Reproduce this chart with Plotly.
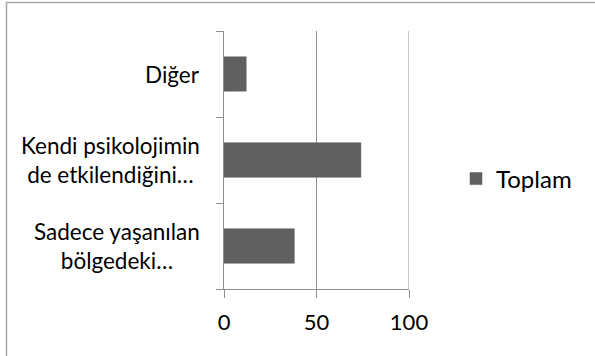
import plotly.graph_objects as go

# Survey answers (bottom to top on the category axis)
categories = ["Sadece yaşanılan<br>bölgedeki…", "Kendi psikolojimin<br>de etkilendiğini…", "Diğer"]
values = [38, 74, 12]
series_name = "Toplam"
x_ticks = [0, 50, 100]

FONT = "Lato"
W, H = 595, 356
L, R, T, B = 224, 186, 31, 67
pw, ph = W - L - R, H - T - B
GRID = "#8f8f8f"

fig = go.Figure()
fig.add_trace(go.Bar(
    y=categories, x=values, orientation="h", name=series_name,
    marker=dict(color="#606060", line=dict(color="#555555", width=0.5)),
    showlegend=True,
))

# Category labels: centered lines, right edge next to the axis
for cat in categories:
    fig.add_annotation(
        x=-22 / pw, xref="paper", y=cat, yref="y",
        text=cat, showarrow=False, align="center",
        xanchor="right", yanchor="middle",
        font=dict(family=FONT, size=22.5, color="#000000"),
    )

# Vertical grid line at the last tick (the plot edge)
fig.add_shape(
    type="line", xref="x", yref="paper",
    x0=x_ticks[-1], x1=x_ticks[-1], y0=0, y1=1,
    line=dict(color=GRID, width=1), layer="below",
)

# Outer chart frame
fig.add_shape(
    type="rect", xref="paper", yref="paper",
    x0=(6.5 - L) / pw, x1=(W + 20 - L) / pw,
    y0=-(H + 20 - T - ph) / ph, y1=(T - 2.5) / ph + 1,
    line=dict(color="#a6a6a6", width=1.5), fillcolor="rgba(0,0,0,0)",
    layer="below",
)

fig.update_layout(
    width=W, height=H,
    margin=dict(l=L, r=R, t=T, b=B),
    paper_bgcolor="white", plot_bgcolor="white",
    bargap=0.6,
    font=dict(family=FONT, size=22, color="#000000"),
    legend=dict(
        x=(456 - L) / pw, y=(T + ph - 179) / ph, xanchor="left", yanchor="middle",
        font=dict(family=FONT, size=24, color="#000000"),
        bgcolor="rgba(0,0,0,0)",
    ),
    xaxis=dict(
        range=[0, 100], tickvals=x_ticks, ticktext=[str(v) for v in x_ticks],
        showgrid=True, gridcolor=GRID, gridwidth=1,
        showline=True, linecolor=GRID, linewidth=1,
        ticks="outside", ticklen=8, tickcolor=GRID,
        tickfont=dict(family=FONT, size=22), ticklabelstandoff=6,
        zeroline=False, fixedrange=True,
    ),
    yaxis=dict(
        showticklabels=False,
        showline=True, linecolor=GRID, linewidth=1,
        ticks="outside", ticklen=7, tickcolor=GRID,
        tickson="boundaries", showgrid=False,
        fixedrange=True,
    ),
)

fig.write_html("out.html")
